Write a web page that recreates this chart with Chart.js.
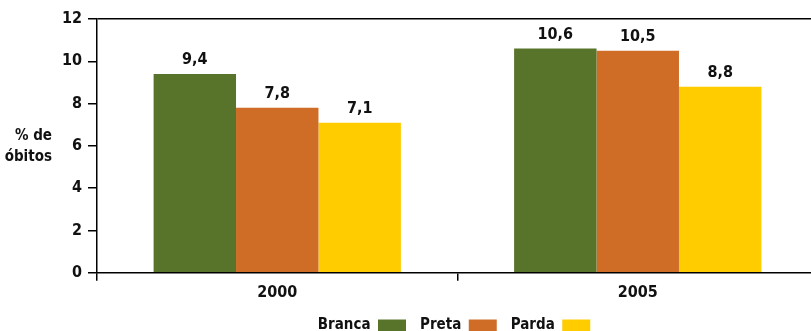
<!DOCTYPE html>
<html>
<head>
<meta charset="utf-8">
<script src="https://cdn.jsdelivr.net/npm/chart.js@4/dist/chart.umd.min.js"></script>
<style>
  html, body { margin: 0; padding: 0; background: #fff; }
  #wrap { width: 811px; height: 331px; }
</style>
</head>
<body>
<div id="wrap"><canvas id="myChart"></canvas></div>
<script>
const years = ['2000', '2005']
const branca = [9.4, 10.6]
const preta = [7.8, 10.5]
const parda = [7.1, 8.8]
const yTicks = [0, 2, 4, 6, 8, 10, 12]

const FONT = '"Liberation Sans Narrow", "DejaVu Sans Condensed", sans-serif'

// value labels above each bar, with comma decimals
const barLabels = {
  id: 'barLabels',
  afterDatasetsDraw(chart) {
    const ctx = chart.ctx
    ctx.save()
    ctx.font = 'bold 16px ' + FONT
    ctx.fillStyle = '#111'
    ctx.textAlign = 'center'
    ctx.textBaseline = 'bottom'
    chart.data.datasets.forEach((ds, i) => {
      chart.getDatasetMeta(i).data.forEach((bar, j) => {
        ctx.fillText(ds.data[j].toFixed(1).replace('.', ','), bar.x, bar.y - 6)
      })
    })
    ctx.restore()
  }
}

// horizontal y title on the left
const sideTitle = {
  id: 'sideTitle',
  afterDraw(chart) {
    const ctx = chart.ctx
    ctx.save()
    ctx.font = 'bold 15px ' + FONT
    ctx.fillStyle = '#111'
    ctx.textAlign = 'right'
    ctx.textBaseline = 'middle'
    ctx.fillText('% de', 52, 136)
    ctx.fillText('óbitos', 52, 157)
    ctx.restore()
  }
}

// the original plot runs a little past the right edge of the picture;
// also center the legend under the plot area, not the whole canvas
const EXTRA_RIGHT = 7
const fixLayout = {
  id: 'fixLayout',
  afterLayout(chart) {
    const x = chart.scales.x
    x.right += EXTRA_RIGHT
    x.width += EXTRA_RIGHT
    x.configure()
    chart.chartArea.right += EXTRA_RIGHT
    chart.chartArea.width += EXTRA_RIGHT

    const lg = chart.legend
    if (!lg) return
    lg.left = chart.chartArea.left
    lg.right = chart.width
    lg.width = lg.right - lg.left
  }
}

new Chart(document.getElementById('myChart'), {
  type: 'bar',
  data: {
    labels: years,
    datasets: [
      { label: 'Branca', data: branca, backgroundColor: '#58742a' },
      { label: 'Preta', data: preta, backgroundColor: '#cf6d27' },
      { label: 'Parda', data: parda, backgroundColor: '#ffcc00' }
    ]
  },
  options: {
    responsive: true,
    maintainAspectRatio: false,
    animation: false,
    layout: { padding: { left: 0, top: 19, right: 0, bottom: -12 } },
    datasets: {
      bar: { categoryPercentage: 0.686, barPercentage: 1.0 }
    },
    scales: {
      x: {
        grid: {
          offset: true,
          color: 'transparent',
          tickColor: '#000',
          tickLength: 8,
          lineWidth: 1.5
        },
        border: { color: '#000', width: 1.5 },
        ticks: {
          color: '#111',
          font: { family: FONT, size: 16, weight: 'bold' },
          padding: 2
        }
      },
      y: {
        min: 0,
        max: 12,
        afterBuildTicks(scale) {
          scale.ticks = yTicks.map(v => ({ value: v }))
        },
        afterFit(scale) {
          scale.width = 97
        },
        grid: {
          color: c => (c.tick && c.tick.value === 12 ? '#000' : 'transparent'),
          tickColor: '#000',
          tickLength: 9,
          lineWidth: 1.5
        },
        border: { color: '#000', width: 1.5 },
        ticks: {
          color: '#111',
          font: { family: FONT, size: 16, weight: 'bold' },
          padding: 6
        }
      }
    },
    plugins: {
      legend: {
        position: 'bottom',
        rtl: true,
        reverse: true,
        labels: {
          boxWidth: 28,
          boxHeight: 12,
          padding: 14,
          color: '#111',
          font: { family: FONT, size: 15, weight: 'bold' }
        }
      },
      tooltip: { enabled: false }
    }
  },
  plugins: [barLabels, sideTitle, fixLayout]
})
</script>
</body>
</html>
